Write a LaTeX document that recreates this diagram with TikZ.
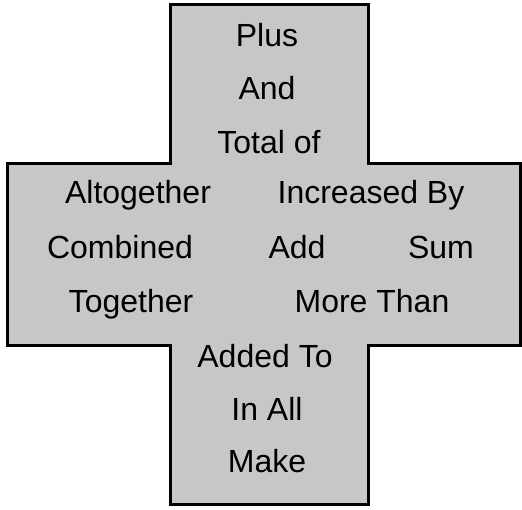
\documentclass[tikz,border=0pt]{standalone}
\usepackage{fontspec}
\setmainfont{Liberation Sans}
\begin{document}
\begin{tikzpicture}[x=1pt,y=1pt,
  crossbox/.style={draw=black,line width=3pt,fill=black!22,line join=miter},
  word/.style={anchor=base,inner sep=0pt,font=\fontsize{32}{36}\selectfont}]
\useasboundingbox (0,0) rectangle (522,510);
\draw[crossbox] (170,505) -- (368,505) -- (368,346) -- (520,346) -- (520,164)
  -- (368,164) -- (368,5) -- (170,5) -- (170,164) -- (7,164) -- (7,346) -- (170,346) -- cycle;
\node[word] (plus) at (267,463.5) {Plus};
\node[word] (and) at (267,410) {And};
\node[word] (total) at (269,356) {Total of};
\node[word] (alto) at (138,306) {Altogether};
\node[word] (incr) at (371,306) {Increased By};
\node[word] (comb) at (120,251) {Combined};
\node[word] (add) at (297,251) {Add};
\node[word] (sum) at (441,251) {Sum};
\node[word] (toge) at (131,197) {Together};
\node[word] (more) at (372,197) {More Than};
\node[word] (added) at (265,142) {Added To};
\node[word] (inall) at (267,89) {In All};
\node[word] (make) at (267,37) {Make};
\end{tikzpicture}
\end{document}
